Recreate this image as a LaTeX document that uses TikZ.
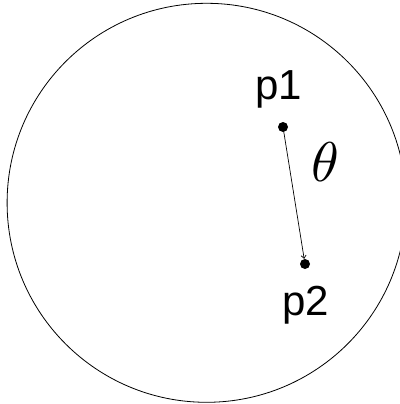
\documentclass[tikz,border=0pt]{standalone}
\usepackage{graphicx}
\usepackage{fontspec}
\newfontfamily\labelfont{Liberation Sans}
\usetikzlibrary{arrows.meta,positioning}

\begin{document}
\begin{tikzpicture}[x=1pt, y=-1pt,
    dot/.style={circle, fill=black, inner sep=0pt, minimum size=10pt},
    plabel/.style={anchor=base, inner sep=0pt, font=\labelfont\fontsize{42}{44}\selectfont}]
    \useasboundingbox (0,0) rectangle (399,404);

    % --- Region ---
    \draw[line width=0.8pt] (206.6,202.8) circle (199.5);

    % --- Points ---
    \node[dot] (p1) at (283,127) {};
    \node[dot] (p2) at (305,264) {};
    \node[plabel] (p1label) at (279,99) {p1};
    \node[plabel] (p2label) at (306,315) {p2};

    % Direction between the points
    \draw[-{Straight Barb[length=3pt,width=5pt]}, line width=0.7pt] (p1.center) -- (p2);
    \node (theta) at (325,162) {\scalebox{5.6}{$\theta$}};

\end{tikzpicture}
\end{document}
